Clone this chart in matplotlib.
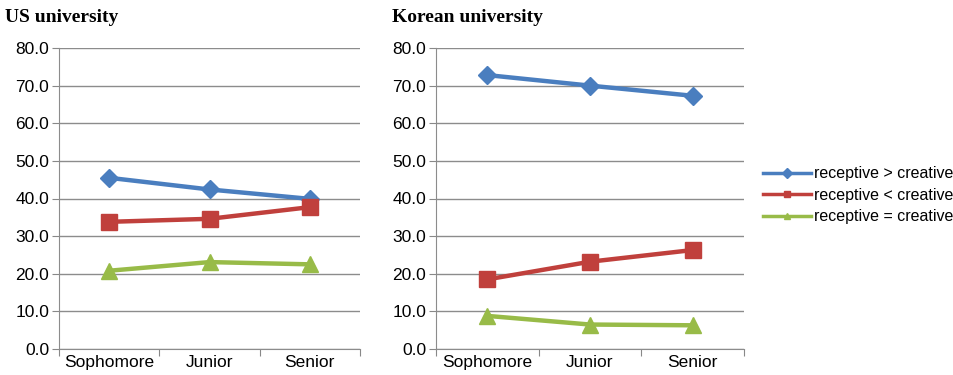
import matplotlib.pyplot as plt
from matplotlib.lines import Line2D

grades = ["Sophomore", "Junior", "Senior"]
labels = ["receptive > creative", "receptive < creative", "receptive = creative"]

us_greater = [45.5, 42.4, 39.9]
us_less = [33.8, 34.6, 37.7]
us_equal = [20.8, 23.1, 22.5]

kr_greater = [72.8, 70.0, 67.3]
kr_less = [18.5, 23.2, 26.3]
kr_equal = [8.8, 6.5, 6.3]

colors = ["#4a7ebf", "#c0403c", "#98bb48"]
markers = ["D", "s", "^"]
msizes = [9, 11, 11]

plt.rcParams['font.family'] = ['Liberation Sans', 'DejaVu Sans']

fig = plt.figure(figsize=(9.54, 3.75), dpi=100)
W, H = 954, 375
ax1 = fig.add_axes([59 / W, 1 - 349 / H, 301 / W, 301 / H])
ax2 = fig.add_axes([436 / W, 1 - 349 / H, 308 / W, 301 / H])


def draw(ax, series, title, title_x):
    x = range(len(grades))
    for vals, c, m, ms, lab in zip(series, colors, markers, msizes, labels):
        ax.plot(x, vals, color=c, lw=3.2, marker=m, ms=ms, label=lab, zorder=3)
    ax.set_xlim(-0.5, 2.5)
    ax.set_ylim(0, 80)
    ax.set_yticks(range(0, 81, 10))
    ax.set_yticklabels([f"{v:.1f}" for v in range(0, 81, 10)], fontsize=12.5)
    ax.set_xticks([-0.5, 0.5, 1.5, 2.5])
    ax.set_xticklabels([])
    ax.set_xticks(list(x), minor=True)
    ax.set_xticklabels(grades, minor=True, fontsize=12.5)
    ax.tick_params(axis='x', which='minor', length=0, pad=4)
    ax.tick_params(axis='x', which='major', length=5, color="#888888")
    ax.tick_params(axis='y', length=5, color="#888888", pad=2)
    ax.grid(axis='y', color="#8c8c8c", lw=1)
    ax.set_axisbelow(True)
    for s in ["top", "right"]:
        ax.spines[s].set_visible(False)
    ax.spines["left"].set_color("#8c8c8c")
    ax.spines["bottom"].set_color("#8c8c8c")
    fig.text(title_x / W, 1 - 18 / H, title, fontsize=14, fontweight='bold',
             family='Liberation Serif', va='center', ha='left')


draw(ax1, [us_greater, us_less, us_equal], "US university", 5)
draw(ax2, [kr_greater, kr_less, kr_equal], "Korean university", 392)

handles = [Line2D([], [], color=c, lw=2.5, marker=m, ms=5)
           for c, m in zip(colors, markers)]
fig.legend(handles, labels, loc='upper left', bbox_to_anchor=(757 / W, 1 - 160 / H),
           frameon=False, fontsize=11.5, handlelength=3.0, handletextpad=0.15,
           labelspacing=0.4, borderaxespad=0)

fig.savefig("out.png", dpi=100)
